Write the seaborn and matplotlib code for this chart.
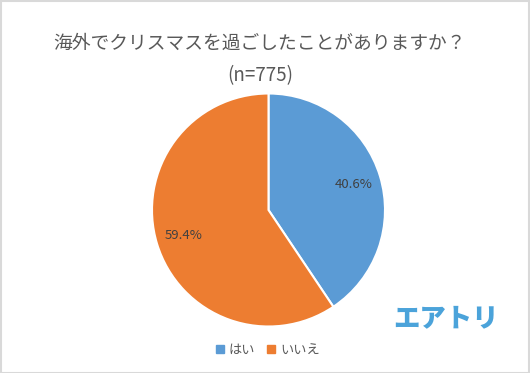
import matplotlib
matplotlib.use("Agg")
import matplotlib.pyplot as plt
import seaborn as sns
from matplotlib.patches import Rectangle

categories = ["はい", "いいえ"]
values = [40.6, 59.4]
title = "海外でクリスマスを過ごしたことがありますか？"
subtitle = "(n=775)"
logo = "エアトリ"

sns.set_style("white")
plt.rcParams['font.family'] = ['Noto Sans CJK JP', 'DejaVu Sans']
colors = sns.color_palette(["#5B9BD5", "#ED7D31"])

W, H = 530, 373
fig = plt.figure(figsize=(W / 100, H / 100), dpi=100)
fig.patch.set_facecolor("white")

cx, cy, r = 268.5, 210, 116.5
ax = fig.add_axes([(cx - r) / W, (H - cy - r) / H, 2 * r / W, 2 * r / H])
wedges, texts, autotexts = ax.pie(
    values, colors=colors, startangle=90, counterclock=False,
    autopct="%.1f%%", pctdistance=0.76,
    wedgeprops=dict(edgecolor="white", linewidth=1.5),
    textprops=dict(color="#404040", fontsize=9.5),
)
ax.set_xlim(-1, 1)
ax.set_ylim(-1, 1)
ax.set_aspect("auto")
ax.axis("off")

fig.text(259 / W, 1 - 43 / H, title, ha="center", va="center",
         fontsize=13.5, color="#595959")
fig.text(260 / W, 1 - 76 / H, subtitle, ha="center", va="center",
         fontsize=13.5, color="#595959")

# legend
handles = [Rectangle((0, 0), 1, 1, color=c) for c in colors]
leg = fig.legend(handles, categories, loc="center", bbox_to_anchor=(268 / W, 1 - 350 / H),
                 ncol=2, frameon=False, fontsize=9.5, handlelength=0.55, handleheight=0.55,
                 handletextpad=0.4, columnspacing=0.9)
for t in leg.get_texts():
    t.set_color("#595959")

fig.text(446 / W, 1 - 318 / H, logo, ha="center", va="center",
         fontsize=19, fontweight="heavy", color="#4BA3DA")

fig.add_artist(Rectangle((0.5 / W, 0.5 / H), 1 - 1.5 / W, 1 - 1.5 / H, transform=fig.transFigure,
                         fill=False, edgecolor="#D9D9D9", linewidth=1.5))

fig.savefig("out.png", dpi=100, facecolor="white")
